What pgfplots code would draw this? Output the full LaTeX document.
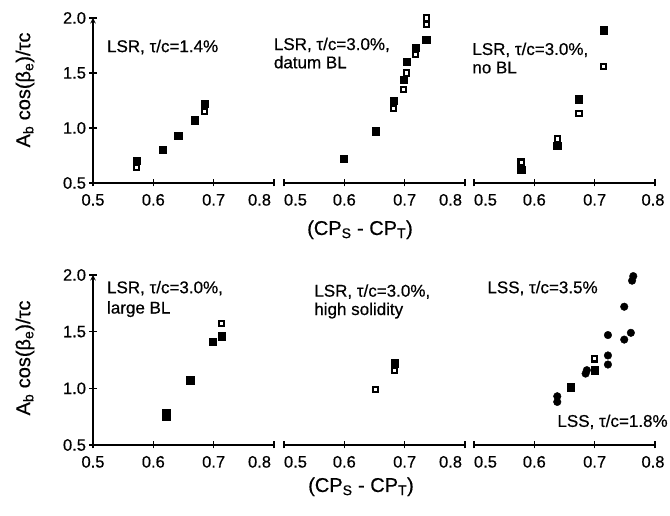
\documentclass[border=0pt]{standalone}
\usepackage{pgfplots}
\pgfplotsset{compat=1.18}
\usepackage{fontspec}
\setmainfont{Liberation Sans}[FakeBold=0.5]
\begin{document}
\begin{tikzpicture}[x=1pt,y=1pt]
\path[use as bounding box] (0,0) rectangle (670,516);
\tikzset{ptxt/.style={anchor=base west, inner sep=0pt, font=\fontsize{17}{18}\selectfont}}
\pgfplotsset{
  panel/.style={scale only axis, width=181pt, xmin=0.5, xmax=0.8, ymin=0.5, ymax=2.0,
    clip=false, axis x line=bottom, axis line style={-, line width=1.4pt},
    xtick={0.5,0.6,0.7,0.8}, tick align=center, major tick length=7pt,
    every tick/.style={black, line width=1.2pt},
    tick label style={font=\fontsize{16.5}{16.5}\selectfont},
    xticklabel style={yshift=-4pt},
    anchor=south west},
  leftpanel/.style={axis y line=left, ytick={0.5,1,1.5,2}, yticklabels={0.5,1.0,1.5,2.0}},
  nopanel/.style={axis y line=none, ytick=\empty},
  fsq/.style={only marks, mark=square*, mark size=3.7pt, mark options={fill=black, draw=black}},
  osq/.style={only marks, mark=square*, mark size=2.6pt, mark options={fill=white, draw=black, line width=2.1pt}},
  fci/.style={only marks, mark=*, mark size=3.8pt, mark options={fill=black, draw=black}},
}
% ---------- top row ----------
\begin{axis}[panel, leftpanel, height=165pt, at={(93pt,333pt)},
  xticklabels={0.5,0.6,0.7,\makebox[0pt][r]{0.8\hspace{3pt}}}]
\addplot[fsq] coordinates {(0.572,0.70) (0.616,0.80) (0.641,0.93) (0.669,1.07) (0.685,1.22)};
\addplot[osq] coordinates {(0.572,0.64) (0.685,1.15)};
\node[ptxt] at (axis cs:0.523,1.69) {LSR, τ/c=1.4\%};
\end{axis}
\begin{axis}[panel, nopanel, height=165pt, at={(284pt,333pt)},
  xticklabels={\makebox[0pt][l]{0.5},0.6,0.7,\makebox[0pt][r]{0.8\hspace{3pt}}}]
\addplot[fsq] coordinates {(0.599,0.72) (0.652,0.97) (0.682,1.25) (0.698,1.44) (0.703,1.60) (0.718,1.73) (0.736,1.80)};
\addplot[osq] coordinates {(0.682,1.18) (0.698,1.35) (0.703,1.50) (0.718,1.67) (0.736,1.94) (0.736,2.00)};
\node[ptxt] at (axis cs:0.483,1.709) {LSR, τ/c=3.0\%,};
\node[ptxt] at (axis cs:0.483,1.543) {datum BL};
\end{axis}
\begin{axis}[panel, nopanel, height=165pt, at={(474pt,333pt)},
  xticklabels={\makebox[0pt][l]{0.5},0.6,0.7,\makebox[0pt][c]{\hspace{-4pt}0.8}}]
\addplot[fsq] coordinates {(0.578,0.62) (0.638,0.84) (0.674,1.26) (0.715,1.89)};
\addplot[osq] coordinates {(0.578,0.69) (0.638,0.90) (0.674,1.13) (0.715,1.56)};
\node[ptxt] at (axis cs:0.497,1.664) {LSR, τ/c=3.0\%,};
\node[ptxt] at (axis cs:0.497,1.497) {no BL};
\end{axis}
% ---------- bottom row ----------
\begin{axis}[panel, leftpanel, height=170pt, at={(93pt,71pt)},
  xticklabels={0.5,0.6,0.7,\makebox[0pt][r]{0.8\hspace{3pt}}}]
\addplot[fsq] coordinates {(0.621,0.78) (0.621,0.75) (0.661,1.07) (0.698,1.41) (0.713,1.46)};
\addplot[osq] coordinates {(0.713,1.57)};
\node[ptxt] at (axis cs:0.523,1.839) {LSR, τ/c=3.0\%,};
\node[ptxt] at (axis cs:0.523,1.66) {large BL};
\end{axis}
\begin{axis}[panel, nopanel, height=170pt, at={(284pt,71pt)},
  xticklabels={\makebox[0pt][l]{0.5},0.6,0.7,\makebox[0pt][r]{0.8\hspace{3pt}}}]
\addplot[fsq] coordinates {(0.683,1.22)};
\addplot[osq] coordinates {(0.652,0.99) (0.683,1.16)};
\node[ptxt] at (axis cs:0.55,1.809) {LSR, τ/c=3.0\%,};
\node[ptxt] at (axis cs:0.55,1.647) {high solidity};
\end{axis}
\begin{axis}[panel, nopanel, height=170pt, at={(474pt,71pt)},
  xticklabels={\makebox[0pt][l]{0.5},0.6,0.7,\makebox[0pt][c]{\hspace{-4pt}0.8}}]
\addplot[fci] coordinates {(0.638,0.88) (0.638,0.93) (0.685,1.13) (0.687,1.16) (0.722,1.21) (0.722,1.29) (0.722,1.47) (0.749,1.72) (0.749,1.43) (0.760,1.49) (0.762,1.95) (0.764,1.99)};
\addplot[fsq] coordinates {(0.660,1.01) (0.700,1.16)};
\addplot[osq] coordinates {(0.700,1.26)};
\node[ptxt] at (axis cs:0.522,1.839) {LSS, τ/c=3.5\%};
\node[ptxt] at (axis cs:0.638,0.66) {LSS, τ/c=1.8\%};
\end{axis}
% ---------- axis labels ----------
\node[rotate=90, font=\fontsize{20}{20}\selectfont] at (25,426) {A\textsubscript{b} cos(β\textsubscript{e})/τc};
\node[rotate=90, font=\fontsize{20}{20}\selectfont] at (25,158) {A\textsubscript{b} cos(β\textsubscript{e})/τc};
\node[anchor=base, font=\fontsize{20}{20}\selectfont] at (360,281) {(CP\textsubscript{S} - CP\textsubscript{T})};
\node[anchor=base, font=\fontsize{20}{20}\selectfont] at (361,24) {(CP\textsubscript{S} - CP\textsubscript{T})};
\end{tikzpicture}
\end{document}
